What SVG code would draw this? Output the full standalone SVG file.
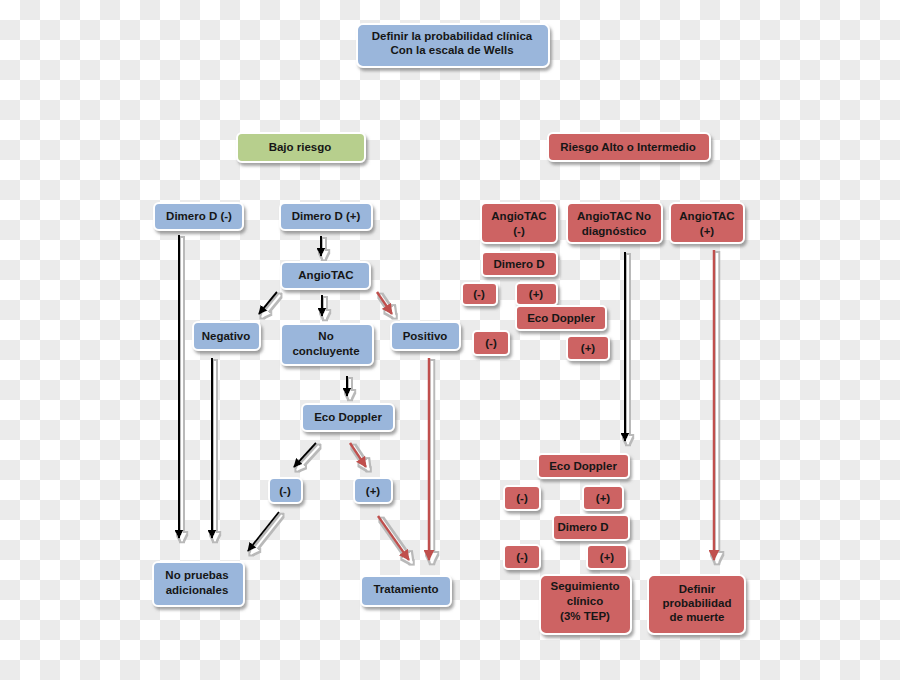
<svg xmlns="http://www.w3.org/2000/svg" width="900" height="680" viewBox="0 0 900 680">
<defs>
<pattern id="chk" width="40" height="40" patternUnits="userSpaceOnUse">
<rect width="40" height="40" fill="#ffffff"/>
<rect x="20" y="0" width="20" height="20" fill="#ebebeb"/>
<rect x="0" y="20" width="20" height="20" fill="#ebebeb"/>
</pattern>
<filter id="sh" x="-20%" y="-20%" width="140%" height="150%">
<feDropShadow dx="2" dy="3" stdDeviation="1.5" flood-color="#6b6b6b" flood-opacity="0.6"/>
</filter>
<filter id="ash" x="-50%" y="-50%" width="200%" height="200%">
<feMorphology in="SourceAlpha" operator="dilate" radius="1.5" result="d"/>
<feOffset in="d" dx="3" dy="3" result="o"/>
<feFlood flood-color="#b9b9b9"/>
<feComposite in2="o" operator="in" result="g"/>
<feOffset in="SourceAlpha" dx="3" dy="3" result="o2"/>
<feFlood flood-color="#ffffff"/>
<feComposite in2="o2" operator="in" result="w"/>
<feMerge><feMergeNode in="g"/><feMergeNode in="w"/><feMergeNode in="SourceGraphic"/></feMerge>
</filter>
<marker id="ab" viewBox="0 0 10 10" refX="9" refY="5" markerWidth="9" markerHeight="9" markerUnits="userSpaceOnUse" orient="auto">
<path d="M0,0 L10,5 L0,10 Z" fill="#000"/>
</marker>
<marker id="ar" viewBox="0 0 10 10" refX="9" refY="5" markerWidth="11" markerHeight="11" markerUnits="userSpaceOnUse" orient="auto">
<path d="M0,0 L10,5 L0,10 Z" fill="#c0504d"/>
</marker>
<style>
.b rect{fill:#9ab6db;stroke:#fff;stroke-width:2;filter:url(#sh)}
.r rect{fill:#cd6363;stroke:#fff;stroke-width:2;filter:url(#sh)}
.g rect{fill:#b7cf8d;stroke:#fff;stroke-width:2;filter:url(#sh)}
text{font-family:"Liberation Sans",Arial,sans-serif;font-weight:bold;font-size:11.5px;fill:#161616;text-anchor:middle}
.k{stroke:#000;stroke-width:2;fill:none;marker-end:url(#ab)}
.rd{stroke:#c0504d;stroke-width:2.5;fill:none;marker-end:url(#ar)}
</style>
</defs>
<rect width="900" height="680" fill="url(#chk)"/>

<g id="connectors" filter="url(#ash)">
<line class="k" x1="179" y1="235" x2="179" y2="538"/>
<line class="k" x1="212" y1="358" x2="212" y2="538"/>
<line class="k" x1="321" y1="236" x2="321" y2="256"/>
<line class="k" x1="277" y1="292" x2="259" y2="314"/>
<line class="k" x1="322" y1="295" x2="322" y2="316"/>
<line class="rd" x1="377" y1="292" x2="392" y2="314"/>
<line class="k" x1="347" y1="376" x2="347" y2="396"/>
<line class="k" x1="316" y1="443" x2="294" y2="467"/>
<line class="rd" x1="350" y1="443" x2="366" y2="467"/>
<line class="k" x1="279" y1="512" x2="248" y2="551"/>
<line class="rd" x1="378" y1="516" x2="409" y2="560"/>
<line class="rd" x1="429" y1="358" x2="429" y2="560"/>
<line class="k" x1="625" y1="252" x2="625" y2="441"/>
<line class="rd" x1="714" y1="250" x2="714" y2="560"/>
</g>

<g id="n-title" class="b"><rect x="357" y="24" width="192" height="43" rx="6"/><text x="452" y="40">Definir la probabilidad clínica</text><text x="452" y="54">Con la escala de Wells</text></g>
<g id="n-bajo" class="g"><rect x="237" y="133" width="128" height="29" rx="5"/><text x="300" y="151">Bajo riesgo</text></g>
<g id="n-alto" class="r"><rect x="548" y="133" width="162" height="28" rx="5"/><text x="628" y="151">Riesgo Alto o Intermedio</text></g>

<g id="n-dmin" class="b"><rect x="154" y="203" width="89" height="27" rx="5"/><text x="199" y="220">Dimero D (-)</text></g>
<g id="n-dplus" class="b"><rect x="280" y="203" width="92" height="27" rx="5"/><text x="326" y="220">Dimero D (+)</text></g>
<g id="n-angio" class="b"><rect x="281" y="262" width="89" height="27" rx="5"/><text x="326" y="279">AngioTAC</text></g>
<g id="n-neg" class="b"><rect x="193" y="322" width="67" height="28" rx="5"/><text x="226" y="340">Negativo</text></g>
<g id="n-nocon" class="b"><rect x="281" y="324" width="92" height="41" rx="5"/><text x="326" y="340">No</text><text x="326" y="355">concluyente</text></g>
<g id="n-pos" class="b"><rect x="391" y="322" width="69" height="28" rx="5"/><text x="425" y="340">Positivo</text></g>
<g id="n-eco" class="b"><rect x="302" y="404" width="92" height="27" rx="5"/><text x="348" y="421">Eco Doppler</text></g>
<g id="n-emin" class="b"><rect x="269" y="478" width="33" height="25" rx="5"/><text x="285" y="495">(-)</text></g>
<g id="n-eplus" class="b"><rect x="354" y="478" width="38" height="25" rx="5"/><text x="373" y="495">(+)</text></g>
<g id="n-nopru" class="b"><rect x="153" y="562" width="91" height="44" rx="5"/><text x="197" y="579">No pruebas</text><text x="197" y="594">adicionales</text></g>
<g id="n-trat" class="b"><rect x="361" y="576" width="90" height="30" rx="5"/><text x="406" y="593">Tratamiento</text></g>

<g id="r-amin" class="r"><rect x="481" y="203" width="76" height="40" rx="5"/><text x="519" y="220">AngioTAC</text><text x="519" y="235">(-)</text></g>
<g id="r-anod" class="r"><rect x="567" y="203" width="95" height="40" rx="5"/><text x="614" y="220">AngioTAC No</text><text x="614" y="235">diagnóstico</text></g>
<g id="r-aplus" class="r"><rect x="670" y="203" width="74" height="40" rx="5"/><text x="707" y="220">AngioTAC</text><text x="707" y="235">(+)</text></g>
<g id="r-dim1" class="r"><rect x="482" y="252" width="75" height="24" rx="4"/><text x="519" y="268">Dimero D</text></g>
<g id="r-m1" class="r"><rect x="462" y="283" width="35" height="22" rx="4"/><text x="479" y="298">(-)</text></g>
<g id="r-p1" class="r"><rect x="516" y="283" width="41" height="22" rx="4"/><text x="536" y="298">(+)</text></g>
<g id="r-eco1" class="r"><rect x="516" y="306" width="90" height="24" rx="4"/><text x="561" y="322">Eco Doppler</text></g>
<g id="r-m2" class="r"><rect x="473" y="331" width="36" height="24" rx="4"/><text x="491" y="347">(-)</text></g>
<g id="r-p2" class="r"><rect x="567" y="336" width="42" height="24" rx="4"/><text x="588" y="352">(+)</text></g>
<g id="r-eco2" class="r"><rect x="538" y="454" width="91" height="24" rx="4"/><text x="583" y="470">Eco Doppler</text></g>
<g id="r-m3" class="r"><rect x="504" y="486" width="36" height="24" rx="4"/><text x="522" y="502">(-)</text></g>
<g id="r-p3" class="r"><rect x="583" y="486" width="40" height="24" rx="4"/><text x="603" y="502">(+)</text></g>
<g id="r-dim2" class="r"><rect x="553" y="515" width="76" height="25" rx="4"/><text x="583" y="531">Dimero D</text></g>
<g id="r-m4" class="r"><rect x="504" y="545" width="36" height="24" rx="4"/><text x="522" y="561">(-)</text></g>
<g id="r-p4" class="r"><rect x="587" y="545" width="40" height="24" rx="4"/><text x="607" y="561">(+)</text></g>
<g id="r-seg" class="r"><rect x="540" y="575" width="91" height="59" rx="6"/><text x="585" y="590">Seguimiento</text><text x="585" y="605">clínico</text><text x="585" y="620">(3% TEP)</text></g>
<g id="r-def" class="r"><rect x="648" y="575" width="97" height="59" rx="6"/><text x="697" y="593">Definir</text><text x="697" y="607">probabilidad</text><text x="697" y="621">de muerte</text></g>
</svg>
